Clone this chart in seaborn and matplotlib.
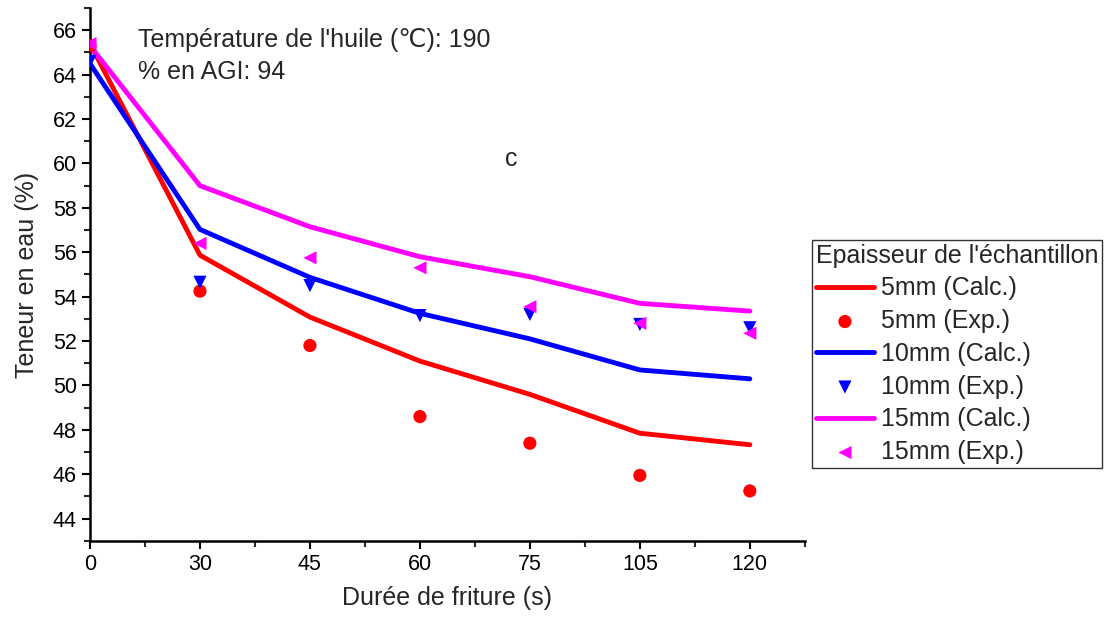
import numpy as np
import pandas as pd
import seaborn as sns
import matplotlib
matplotlib.use("Agg")
import matplotlib.pyplot as plt

# frying times (categorical, evenly spaced on the axis)
times = ["0", "30", "45", "60", "75", "105", "120"]

# calculated water content (%)
calc_5mm = [65.4, 55.87, 53.08, 51.1, 49.6, 47.85, 47.33]
calc_10mm = [64.5, 57.03, 54.87, 53.25, 52.1, 50.7, 50.3]
calc_15mm = [65.3, 59.0, 57.15, 55.8, 54.9, 53.7, 53.35]

# experimental water content (%)
exp_5mm = [65.3, 54.25, 51.8, 48.6, 47.4, 45.95, 45.25]
exp_10mm = [64.6, 54.65, 54.5, 53.15, 53.2, 52.75, 52.6]
exp_15mm = [65.4, 56.4, 55.75, 55.3, 53.55, 52.8, 52.35]

thickness = ["5mm", "10mm", "15mm"]
colors = ["#ff0000", "#0000ff", "#ff00ff"]
markers = ["o", "v", "<"]

sns.set_style("ticks")
plt.rcParams["font.family"] = ["Liberation Sans", "DejaVu Sans"]

fig = plt.figure(figsize=(11.04, 6.21), dpi=100)
ax = fig.add_axes([0.0815, 0.129, 0.6475, 0.858])

xpos = np.arange(len(times))
calc_all = [calc_5mm, calc_10mm, calc_15mm]
exp_all = [exp_5mm, exp_10mm, exp_15mm]

for th, col, mk, calc, expv in zip(thickness, colors, markers, calc_all, exp_all):
    df = pd.DataFrame({"x": xpos, "calc": calc, "exp": expv})
    sns.lineplot(data=df, x="x", y="calc", color=col, linewidth=3.5, ax=ax,
                 label=th + " (Calc.)")
    sns.scatterplot(data=df, x="x", y="exp", color=col, marker=mk, s=90,
                    edgecolor="none", ax=ax, label=th + " (Exp.)", zorder=3)

h, l = ax.get_legend_handles_labels()
leg = ax.legend(h, l, title="Epaisseur de l'échantillon", loc="upper left",
                bbox_to_anchor=(1.0098, 0.565), fontsize=18, title_fontsize=18,
                frameon=True, fancybox=False, edgecolor="black",
                handlelength=2.35, handletextpad=0.25, labelspacing=0.35,
                borderpad=0.15, borderaxespad=0.0)
leg.get_frame().set_linewidth(1.0)
leg._legend_box.align = "left"

ax.set_xlim(0, 6.5)
ax.set_ylim(43, 67)
ax.set_xticks(xpos)
ax.set_xticklabels(times)
ax.set_xticks(np.arange(0.5, 7, 1.0), minor=True)
ax.set_yticks(np.arange(44, 67, 2))
ax.set_yticks(np.arange(43, 68, 2), minor=True)
ax.tick_params(axis="both", which="major", direction="out", length=6, width=1.5,
               labelsize=15.5, colors="black")
ax.tick_params(axis="both", which="minor", direction="out", length=4, width=1.5)

for side in ["top", "right"]:
    ax.spines[side].set_visible(False)
for side in ["left", "bottom"]:
    ax.spines[side].set_linewidth(1.8)
    ax.spines[side].set_color("black")

ax.set_xlabel("Durée de friture (s)", fontsize=18, labelpad=8)
ax.set_ylabel("Teneur en eau (%)", fontsize=18, labelpad=10)

ax.text(0.44, 65.58, "Température de l'huile (℃): 190", fontsize=18, va="center")
ax.text(0.44, 64.14, "% en AGI: 94", fontsize=18, va="center")
ax.text(3.83, 60.2, "c", fontsize=18, ha="center", va="center")

fig.savefig("out.png", dpi=100)
